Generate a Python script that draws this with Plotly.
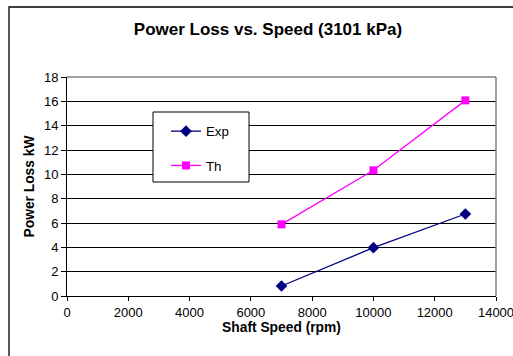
import plotly.graph_objects as go

speed = [7000, 10000, 13000]
exp_loss = [0.82, 3.97, 6.74]
th_loss = [5.89, 10.33, 16.08]
x_ticks = [0, 2000, 4000, 6000, 8000, 10000, 12000, 14000]
y_ticks = [0, 2, 4, 6, 8, 10, 12, 14, 16, 18]

FONT = "Arial, Liberation Sans, sans-serif"

fig = go.Figure()
fig.add_trace(go.Scatter(
    x=speed, y=exp_loss, mode="lines+markers", name="Exp", legendgroup="a",
    line=dict(color="#000080", width=1.3),
    marker=dict(symbol="diamond", size=9, color="#000080"),
))
fig.add_trace(go.Scatter(
    x=speed, y=th_loss, mode="lines+markers", name="Th", legendgroup="b",
    line=dict(color="#FF00FF", width=1.3),
    marker=dict(symbol="square", size=8, color="#FF00FF"),
))

W, H = 513, 356
L, R, T, B = 67, 17, 77, 60
pw, ph = W - L - R, H - T - B

def px_x(p):
    return (p - L) / pw

def px_y(p):
    return (H - B - p) / ph

fig.update_layout(
    width=W, height=H,
    margin=dict(l=L, r=R, t=T, b=B, autoexpand=False),
    paper_bgcolor="white", plot_bgcolor="white",
    font=dict(family=FONT, size=13, color="black"),
    title=dict(text="<b>Power Loss vs. Speed (3101 kPa)</b>", x=268 / W, xanchor="center",
               xref="container", y=1 - 29 / H, yanchor="middle", font=dict(size=17)),
    xaxis=dict(range=[0, 14000], tickvals=x_ticks, ticktext=[str(v) for v in x_ticks],
               ticks="outside", ticklen=4, ticklabeloverflow="allow", automargin=False,
               tickcolor="black", showline=True, linecolor="black", linewidth=1,
               showgrid=False, zeroline=False,
               title=dict(text="<b>Shaft Speed (rpm)</b>", standoff=0, font=dict(size=13.8))),
    yaxis=dict(range=[0, 18], tickvals=y_ticks, ticks="outside", ticklen=5, automargin=False,
               tickcolor="black", showline=True, linecolor="black", linewidth=1,
               showgrid=True, gridcolor="black", gridwidth=1, zeroline=False,
               title=dict(text="<b>Power Loss kW</b>", standoff=6, font=dict(size=13.8))),
    legend=dict(x=px_x(166), y=px_y(116), xanchor="left", yanchor="top",
                borderwidth=0, bgcolor="rgba(255,255,255,0)",
                tracegroupgap=14, font=dict(size=13.3)),
    showlegend=True,
    shapes=[
        dict(type="line", xref="paper", yref="paper", x0=0, x1=1, y0=1, y1=1,
             line=dict(color="#808080", width=1.5), layer="above"),
        dict(type="line", xref="paper", yref="paper", x0=1, x1=1, y0=0, y1=1,
             line=dict(color="#808080", width=1.5), layer="above"),
        dict(type="rect", xref="paper", yref="paper", x0=px_x(153), x1=px_x(249),
             y0=px_y(182), y1=px_y(112), line=dict(color="black", width=1),
             fillcolor="white", layer="above"),
        dict(type="rect", xref="paper", yref="paper", x0=px_x(9), x1=px_x(530),
             y0=px_y(370), y1=px_y(7), line=dict(color="black", width=1.3),
             fillcolor="rgba(0,0,0,0)", layer="above"),
    ],
)

fig.write_html("out.html")
